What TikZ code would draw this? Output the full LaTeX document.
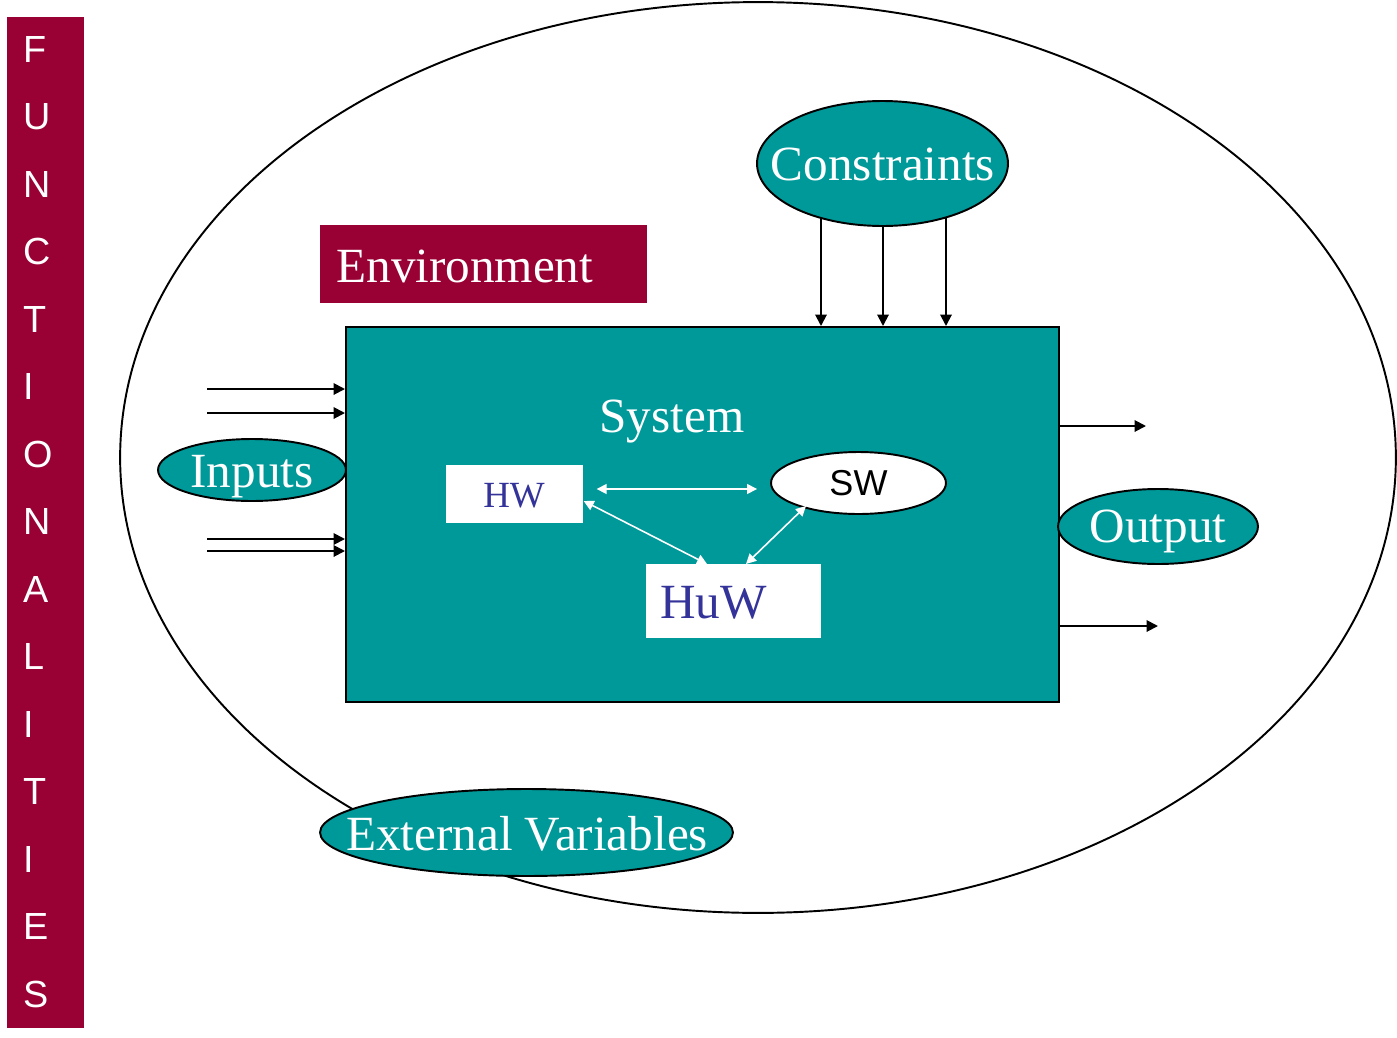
\documentclass[tikz,border=0pt]{standalone}
\usepackage{fontspec}
\setmainfont{Liberation Serif}
\newfontfamily\arialf{Liberation Sans}
\usetikzlibrary{shapes.geometric,arrows.meta,backgrounds}
\definecolor{tealc}{HTML}{009999}
\definecolor{maroonc}{HTML}{990033}
\definecolor{bluec}{HTML}{333399}
\tikzset{
  bigtxt/.style={font=\fontsize{28}{32}\selectfont, text=white, inner sep=0pt, anchor=base},
  tealell/.style={ellipse, draw=black, line width=1.1pt, fill=tealc, inner sep=0pt},
  letter/.style={font=\arialf\fontsize{21.5}{24}\selectfont, text=white, inner sep=0pt},
  barr/.style={draw=black, line width=1.1pt, -{Triangle[length=0.23cm,width=0.23cm]}},
  warr/.style={draw=white, line width=0.9pt, {Triangle[length=0.2cm,width=0.2cm]}-{Triangle[length=0.2cm,width=0.2cm]}},
  whitebox/.style={rectangle, fill=white, inner sep=0pt, anchor=north west}
}
\begin{document}
\begin{tikzpicture}[x=0.02cm,y=-0.02cm]
\useasboundingbox (0,0) rectangle (1397,1038);
% outer environment ellipse
\node[ellipse, draw=black, line width=1.1pt, minimum width=25.52cm, minimum height=18.22cm, inner sep=0pt] (Env) at (758,457.5) {};
% Functionalities bar
\node[rectangle, fill=maroonc, minimum width=1.54cm, minimum height=20.22cm, inner sep=0pt, anchor=north west] (Bar) at (7,17) {};
\foreach \l [count=\i from 0] in {F,U,N,C,T,I,O,N,A,L,I,T,I,E,S}
  \node[letter, anchor=base west] (L\i) at (23,{62+67.5*\i}) {\l};
% Environment label
\node[rectangle, fill=maroonc, anchor=north west, minimum width=6.54cm, minimum height=1.56cm, inner sep=0pt] (EnvL) at (320,225) {};
\node[bigtxt, anchor=base west] (EnvT) at (336,282) {Environment};
% System
\node[rectangle, draw=black, line width=1.1pt, fill=tealc, anchor=north west, minimum width=14.26cm, minimum height=7.5cm, inner sep=0pt] (Sys) at (345,326) {};
\node[bigtxt] (SysT) at (672,432) {System};
% Constraints
\node[tealell, minimum width=5.02cm, minimum height=2.5cm] (C) at (882.5,163.5) {};
\node[bigtxt] (CT) at (883,180) {Constraints};
\begin{scope}[on background layer]
  \foreach \xx in {821,883,946}
    \draw[barr] (C.center -| \xx,0) -- (Sys.north -| \xx,0);
\end{scope}
% Inputs
\node[tealell, minimum width=3.76cm, minimum height=1.24cm] (In) at (252,470) {};
\node[bigtxt] (InT) at (252,487) {Inputs};
\coordinate (i1) at (207,389);
\coordinate (i2) at (207,413);
\coordinate (i3) at (207,539);
\coordinate (i4) at (207,551);
\foreach \c in {i1,i2,i3,i4}
  \draw[barr] (\c) -- (\c -| Sys.west);
% Output
\node[tealell, minimum width=4.0cm, minimum height=1.5cm] (Out) at (1158,526.5) {};
\node[bigtxt] (OutT) at (1158,542) {Output};
\coordinate (o1) at (1146,426);
\coordinate (o2) at (1158,626);
\draw[barr] (Sys.east |- o1) -- (o1);
\draw[barr] (Sys.east |- o2) -- (o2);
% External variables
\node[tealell, minimum width=8.26cm, minimum height=1.74cm] (Ext) at (526.5,832.5) {};
\node[bigtxt] (ExtT) at (527,850) {External Variables};
% inner components
\node[whitebox, minimum width=2.74cm, minimum height=1.16cm] (HW) at (446,465) {};
\node[inner sep=0pt, anchor=base, text=bluec, font=\fontsize{21}{24}\selectfont] (HWT) at (514,507) {HW};
\node[ellipse, draw=black, line width=1.1pt, fill=white, minimum width=3.5cm, minimum height=1.24cm, inner sep=0pt] (SW) at (858.5,483) {};
\node[font=\arialf\fontsize{20.5}{24}\selectfont, inner sep=0pt] (SWT) at (SW) {SW};
\node[whitebox, minimum width=3.5cm, minimum height=1.48cm] (HuW) at (646,564) {};
\node[inner sep=0pt, anchor=base west, text=bluec, font=\fontsize{28}{32}\selectfont] (HuWT) at (660,618) {HuW};
% white arrows
\draw[warr, shorten <=0.26cm, shorten >=0.26cm] (HW.east |- 0,489) -- (SW.west |- 0,489);
\draw[warr] (HW.east |- 0,501) -- (HuW.north -| 707,0);
\draw[warr] (SW.south -| 806,0) ++(0,-9) -- (HuW.north -| 746,0);
\end{tikzpicture}
\end{document}
